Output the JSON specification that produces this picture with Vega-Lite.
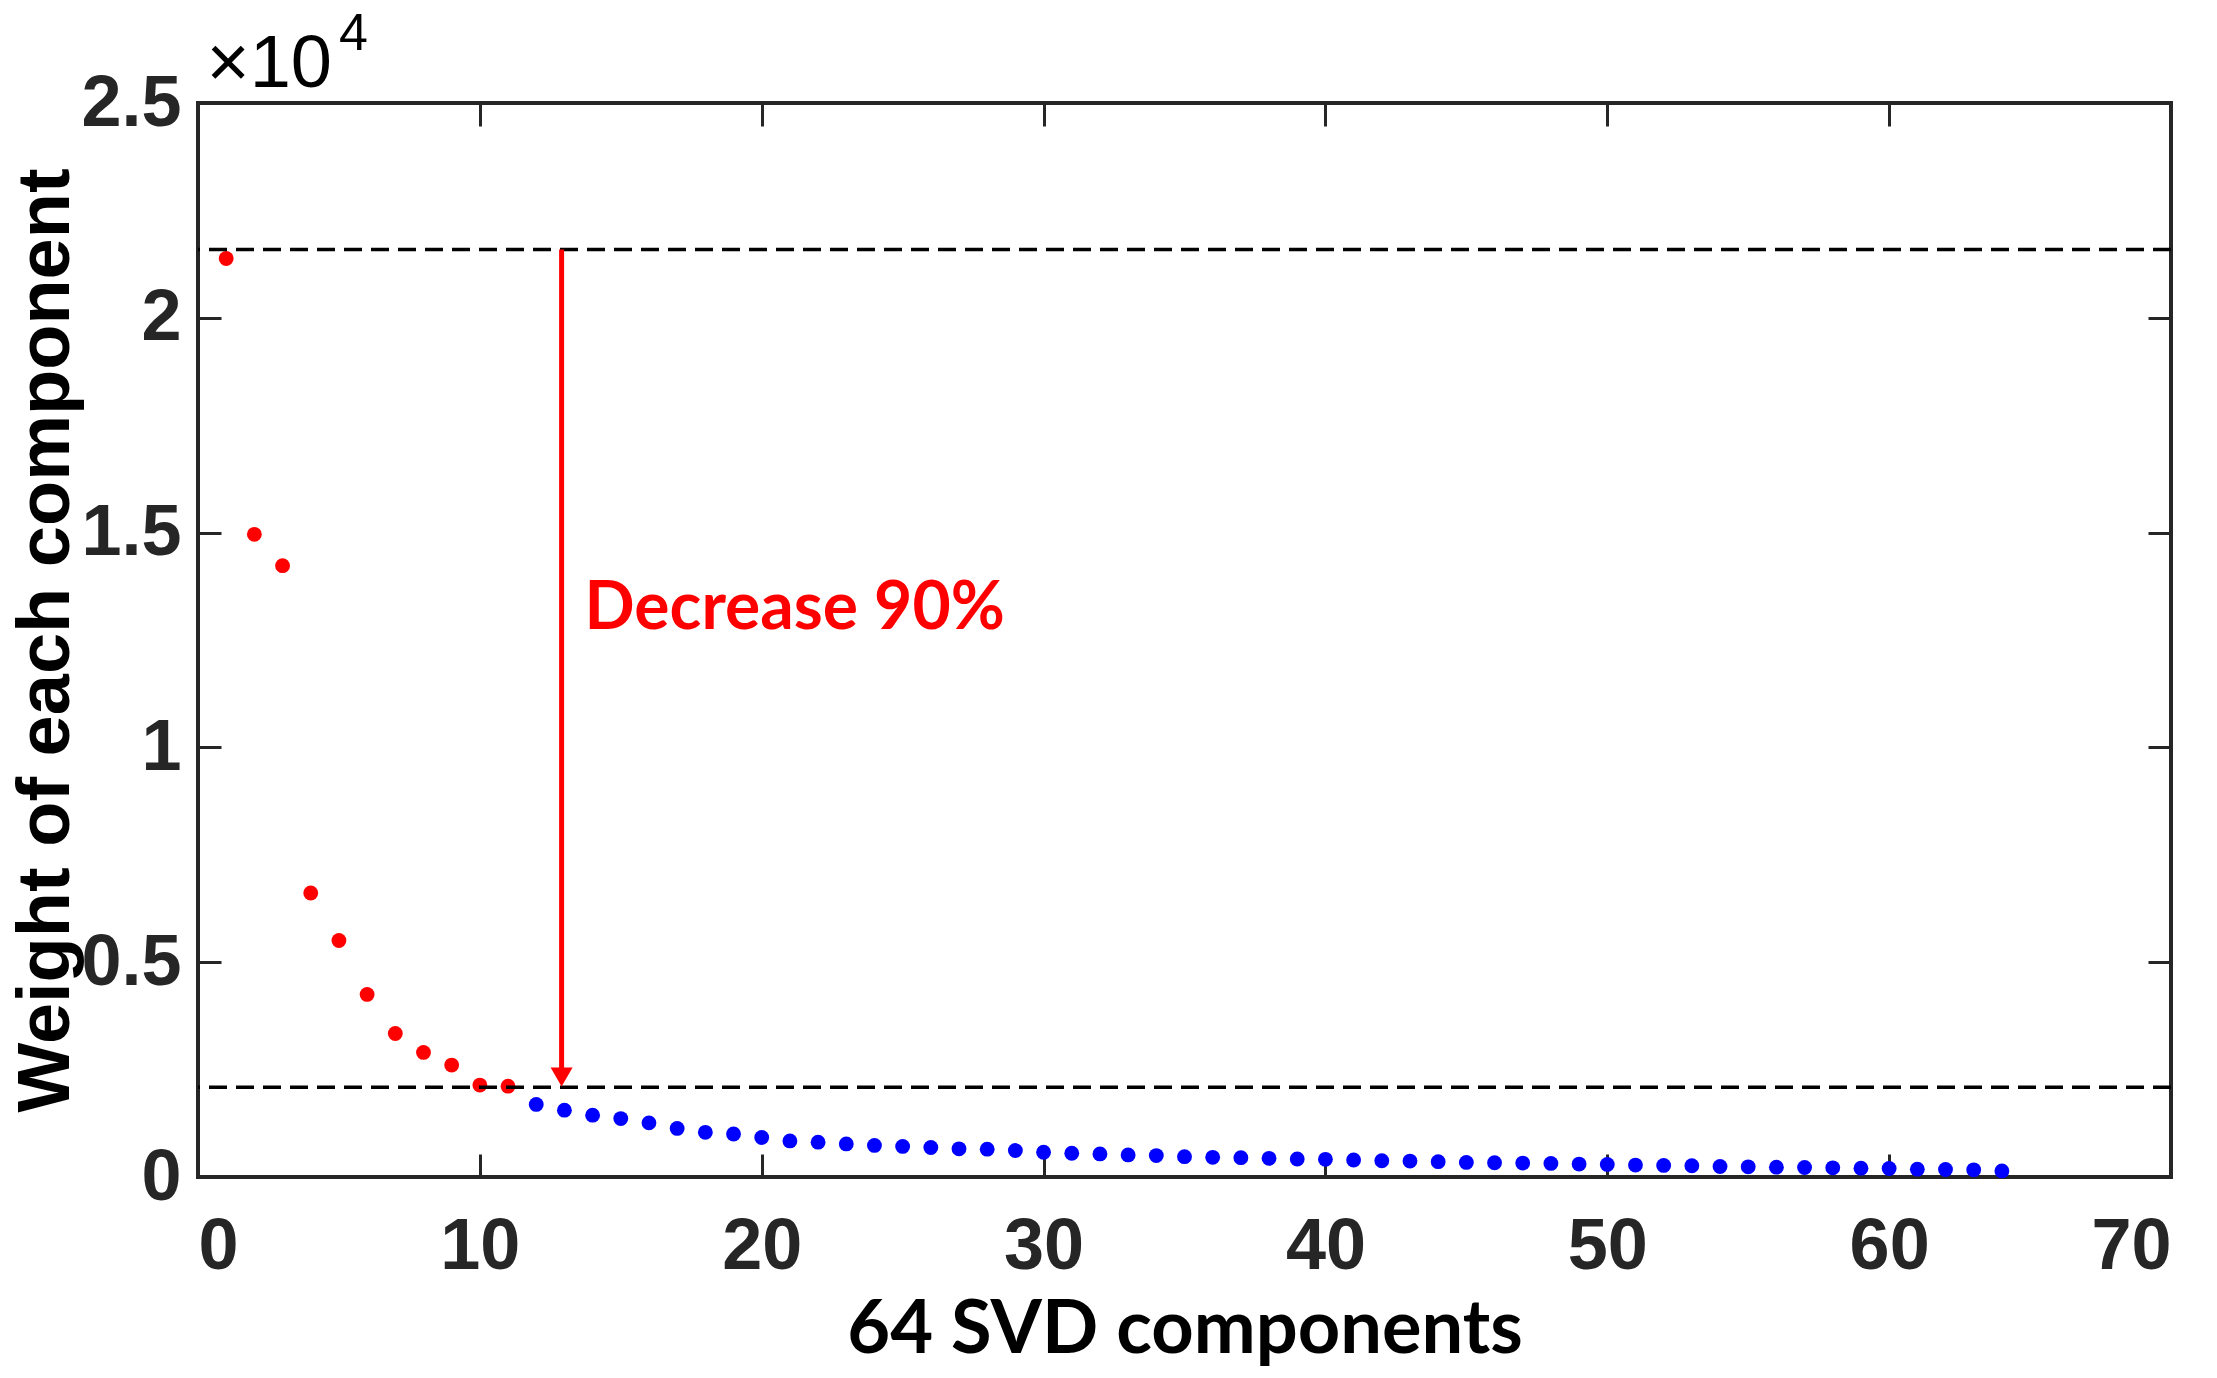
{
  "$schema": "https://vega.github.io/schema/vega-lite/v6.json",
  "autosize": "none",
  "width": 1973,
  "height": 1074,
  "padding": {"left": 198, "top": 103, "right": 46, "bottom": 201},
  "background": "#ffffff",
  "view": {"stroke": "#262626", "strokeWidth": 4, "fill": "#ffffff"},
  "datasets": {
    "weights": [
      {"component": 1, "weight": 21380, "group": "principal"},
      {"component": 2, "weight": 14960, "group": "principal"},
      {"component": 3, "weight": 14230, "group": "principal"},
      {"component": 4, "weight": 6610, "group": "principal"},
      {"component": 5, "weight": 5505, "group": "principal"},
      {"component": 6, "weight": 4250, "group": "principal"},
      {"component": 7, "weight": 3340, "group": "principal"},
      {"component": 8, "weight": 2900, "group": "principal"},
      {"component": 9, "weight": 2605, "group": "principal"},
      {"component": 10, "weight": 2140, "group": "principal"},
      {"component": 11, "weight": 2115, "group": "principal"},
      {"component": 12, "weight": 1690, "group": "residual"},
      {"component": 13, "weight": 1555, "group": "residual"},
      {"component": 14, "weight": 1440, "group": "residual"},
      {"component": 15, "weight": 1360, "group": "residual"},
      {"component": 16, "weight": 1260, "group": "residual"},
      {"component": 17, "weight": 1130, "group": "residual"},
      {"component": 18, "weight": 1040, "group": "residual"},
      {"component": 19, "weight": 1000, "group": "residual"},
      {"component": 20, "weight": 920, "group": "residual"},
      {"component": 21, "weight": 840, "group": "residual"},
      {"component": 22, "weight": 810, "group": "residual"},
      {"component": 23, "weight": 770, "group": "residual"},
      {"component": 24, "weight": 735, "group": "residual"},
      {"component": 25, "weight": 711, "group": "residual"},
      {"component": 26, "weight": 687, "group": "residual"},
      {"component": 27, "weight": 656, "group": "residual"},
      {"component": 28, "weight": 648, "group": "residual"},
      {"component": 29, "weight": 616, "group": "residual"},
      {"component": 30, "weight": 577, "group": "residual"},
      {"component": 31, "weight": 553, "group": "residual"},
      {"component": 32, "weight": 537, "group": "residual"},
      {"component": 33, "weight": 514, "group": "residual"},
      {"component": 34, "weight": 498, "group": "residual"},
      {"component": 35, "weight": 474, "group": "residual"},
      {"component": 36, "weight": 458, "group": "residual"},
      {"component": 37, "weight": 450, "group": "residual"},
      {"component": 38, "weight": 435, "group": "residual"},
      {"component": 39, "weight": 419, "group": "residual"},
      {"component": 40, "weight": 412, "group": "residual"},
      {"component": 41, "weight": 395, "group": "residual"},
      {"component": 42, "weight": 379, "group": "residual"},
      {"component": 43, "weight": 371, "group": "residual"},
      {"component": 44, "weight": 356, "group": "residual"},
      {"component": 45, "weight": 340, "group": "residual"},
      {"component": 46, "weight": 332, "group": "residual"},
      {"component": 47, "weight": 324, "group": "residual"},
      {"component": 48, "weight": 316, "group": "residual"},
      {"component": 49, "weight": 300, "group": "residual"},
      {"component": 50, "weight": 292, "group": "residual"},
      {"component": 51, "weight": 277, "group": "residual"},
      {"component": 52, "weight": 269, "group": "residual"},
      {"component": 53, "weight": 261, "group": "residual"},
      {"component": 54, "weight": 245, "group": "residual"},
      {"component": 55, "weight": 237, "group": "residual"},
      {"component": 56, "weight": 229, "group": "residual"},
      {"component": 57, "weight": 221, "group": "residual"},
      {"component": 58, "weight": 213, "group": "residual"},
      {"component": 59, "weight": 205, "group": "residual"},
      {"component": 60, "weight": 198, "group": "residual"},
      {"component": 61, "weight": 182, "group": "residual"},
      {"component": 62, "weight": 174, "group": "residual"},
      {"component": 63, "weight": 166, "group": "residual"},
      {"component": 64, "weight": 142, "group": "residual"}
    ],
    "levels": [
      {"level": "max", "weight": 21590},
      {"level": "tenth", "weight": 2090}
    ],
    "arrow": [
      {"component": 12.9, "from": 21590, "to": 2330, "label": "Decrease 90%"}
    ],
    "multiplier": [
      {"base": "×10", "exponent": "4"}
    ]
  },
  "layer": [
    {
      "data": {"name": "weights"},
      "mark": {"type": "circle", "opacity": 1, "size": 220},
      "encoding": {
        "x": {
          "field": "component",
          "type": "quantitative",
          "scale": {"domain": [0, 70], "nice": false, "zero": false},
          "axis": {
            "orient": "bottom",
            "values": [0, 10, 20, 30, 40, 50, 60, 70],
            "title": "64 SVD components",
            "titleFont": "Lato",
            "titleFontSize": 74,
            "titleFontWeight": "bold",
            "titleColor": "#000000",
            "titlePadding": 12,
            "labelPadding": 57
          }
        },
        "y": {
          "field": "weight",
          "type": "quantitative",
          "scale": {"domain": [0, 25000], "nice": false},
          "axis": {
            "orient": "left",
            "values": [0, 5000, 10000, 15000, 20000, 25000],
            "labelExpr": "datum.value / 10000",
            "title": "Weight of each component",
            "titleFont": "Liberation Sans",
            "titleFontSize": 74,
            "titleFontWeight": "bold",
            "titleColor": "#000000",
            "titlePadding": -4,
            "labelPadding": 40
          }
        },
        "color": {
          "field": "group",
          "type": "nominal",
          "scale": {"domain": ["principal", "residual"], "range": ["#ff0000", "#0000ff"]},
          "legend": null
        }
      }
    },
    {
      "data": {"name": "levels"},
      "mark": {"type": "rule", "color": "#000000", "strokeWidth": 3.5, "strokeDash": [18, 9]},
      "encoding": {
        "y": {"field": "weight", "type": "quantitative", "axis": null}
      }
    },
    {
      "data": {"name": "arrow"},
      "mark": {"type": "rule", "color": "#ff0000", "strokeWidth": 5},
      "encoding": {
        "x": {
          "field": "component",
          "type": "quantitative",
          "axis": {"orient": "top", "values": [0, 10, 20, 30, 40, 50, 60, 70], "labels": false, "title": null}
        },
        "y": {
          "field": "from",
          "type": "quantitative",
          "axis": {"orient": "right", "values": [0, 5000, 10000, 15000, 20000, 25000], "labels": false, "title": null}
        },
        "y2": {"field": "to"}
      }
    },
    {
      "data": {"name": "arrow"},
      "mark": {"type": "point", "shape": "triangle-down", "filled": true, "color": "#ff0000", "opacity": 1, "size": 484},
      "encoding": {
        "x": {"field": "component", "type": "quantitative", "axis": null},
        "y": {"field": "to", "type": "quantitative", "axis": null}
      }
    },
    {
      "data": {"name": "arrow"},
      "mark": {
        "type": "text",
        "align": "left",
        "baseline": "alphabetic",
        "dx": 23,
        "font": "Lato",
        "fontSize": 66,
        "fontWeight": "bold",
        "color": "#ff0000"
      },
      "encoding": {
        "x": {"field": "component", "type": "quantitative", "axis": null},
        "y": {"datum": 12750, "type": "quantitative", "axis": null},
        "text": {"field": "label"}
      }
    },
    {
      "data": {"name": "multiplier"},
      "mark": {
        "type": "text",
        "align": "left",
        "baseline": "alphabetic",
        "clip": false,
        "font": "Liberation Sans",
        "fontSize": 74,
        "color": "#000000"
      },
      "encoding": {
        "x": {"datum": 0.3, "type": "quantitative", "axis": null},
        "y": {"datum": 25370, "type": "quantitative", "axis": null},
        "text": {"field": "base"}
      }
    },
    {
      "data": {"name": "multiplier"},
      "mark": {
        "type": "text",
        "align": "left",
        "baseline": "alphabetic",
        "clip": false,
        "font": "Liberation Sans",
        "fontSize": 52,
        "color": "#000000"
      },
      "encoding": {
        "x": {"datum": 5.0, "type": "quantitative", "axis": null},
        "y": {"datum": 26230, "type": "quantitative", "axis": null},
        "text": {"field": "exponent"}
      }
    }
  ],
  "resolve": {"axis": {"x": "independent", "y": "independent"}},
  "config": {
    "axis": {
      "domain": false,
      "grid": false,
      "ticks": true,
      "tickSize": -23,
      "tickWidth": 3,
      "tickColor": "#262626",
      "labelFont": "Liberation Sans",
      "labelFontSize": 72,
      "labelFontWeight": "bold",
      "labelColor": "#262626"
    }
  }
}
